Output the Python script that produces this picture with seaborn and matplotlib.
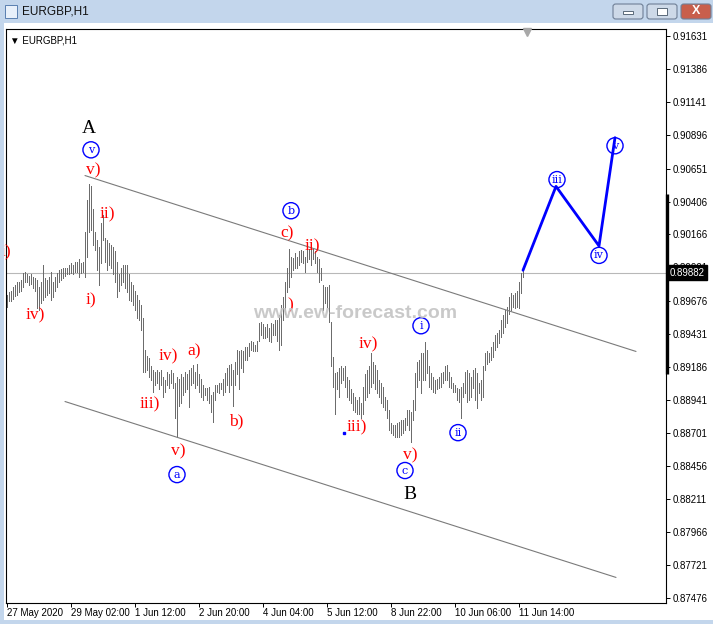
import matplotlib
matplotlib.use("Agg")
import matplotlib.pyplot as plt
import matplotlib.transforms as mtransforms
from matplotlib.patches import Rectangle, FancyBboxPatch
import pandas as pd
import seaborn as sns

# EURGBP H1 bars (one entry per hourly bar)
highs = [
    0.8972, 0.8974, 0.8975, 0.8978, 0.8979, 0.8981, 0.8981, 0.8983, 0.8988, 0.8989,
    0.8987, 0.8986, 0.8987, 0.8985, 0.8984, 0.8983, 0.8978, 0.8981, 0.8994, 0.8984,
    0.8983, 0.8985, 0.8989, 0.8981, 0.8985, 0.8988, 0.8990, 0.8991, 0.8992, 0.8992,
    0.8992, 0.8994, 0.8995, 0.8994, 0.8996, 0.8996, 0.8998, 0.8995, 0.8996, 0.9018,
    0.9042, 0.9054, 0.9052, 0.9035, 0.9018, 0.9012, 0.9007, 0.9025, 0.9031, 0.9014,
    0.9012, 0.9010, 0.9009, 0.9007, 0.9004, 0.8996, 0.8987, 0.8992, 0.8994, 0.8994,
    0.8994, 0.8987, 0.8981, 0.8979, 0.8975, 0.8972, 0.8968, 0.8964, 0.8955, 0.8931,
    0.8927, 0.8925, 0.8919, 0.8916, 0.8915, 0.8916, 0.8915, 0.8916, 0.8911, 0.8909,
    0.8915, 0.8913, 0.8916, 0.8914, 0.8907, 0.8911, 0.8910, 0.8913, 0.8911, 0.8915,
    0.8913, 0.8916, 0.8918, 0.8920, 0.8915, 0.8921, 0.8913, 0.8910, 0.8905, 0.8903,
    0.8903, 0.8904, 0.8898, 0.8900, 0.8905, 0.8905, 0.8907, 0.8907, 0.8910, 0.8914,
    0.8918, 0.8920, 0.8921, 0.8916, 0.8922, 0.8931, 0.8930, 0.8931, 0.8930, 0.8933,
    0.8933, 0.8936, 0.8938, 0.8937, 0.8935, 0.8938, 0.8951, 0.8952, 0.8950, 0.8948,
    0.8950, 0.8947, 0.8951, 0.8950, 0.8953, 0.8953, 0.8957, 0.8964, 0.8970, 0.8981,
    0.8992, 0.9006, 0.9000, 0.8999, 0.9003, 0.9000, 0.9004, 0.9005, 0.9004, 0.9000,
    0.9005, 0.9006, 0.9005, 0.9006, 0.9004, 0.9000, 0.8998, 0.8992, 0.8979, 0.8978,
    0.8978, 0.8979, 0.8952, 0.8926, 0.8914, 0.8915, 0.8918, 0.8919, 0.8918, 0.8919,
    0.8911, 0.8909, 0.8902, 0.8899, 0.8896, 0.8894, 0.8896, 0.8892, 0.8904, 0.8913,
    0.8916, 0.8919, 0.8929, 0.8922, 0.8920, 0.8916, 0.8909, 0.8907, 0.8904, 0.8896,
    0.8894, 0.8887, 0.8877, 0.8876, 0.8876, 0.8877, 0.8878, 0.8879, 0.8879, 0.8881,
    0.8887, 0.8887, 0.8885, 0.8894, 0.8914, 0.8922, 0.8924, 0.8929, 0.8929, 0.8937,
    0.8931, 0.8919, 0.8914, 0.8911, 0.8909, 0.8910, 0.8911, 0.8914, 0.8915, 0.8919,
    0.8920, 0.8915, 0.8911, 0.8907, 0.8905, 0.8903, 0.8902, 0.8904, 0.8907, 0.8915,
    0.8916, 0.8914, 0.8911, 0.8916, 0.8918, 0.8914, 0.8907, 0.8909, 0.8919, 0.8929,
    0.8930, 0.8929, 0.8933, 0.8937, 0.8942, 0.8944, 0.8946, 0.8953, 0.8957, 0.8961,
    0.8963, 0.8970, 0.8973, 0.8972, 0.8973, 0.8975, 0.8981, 0.8988, 0.8992,
]
lows = [
    0.8963, 0.8967, 0.8967, 0.8969, 0.8971, 0.8972, 0.8974, 0.8975, 0.8978, 0.8981,
    0.8981, 0.8979, 0.8980, 0.8977, 0.8975, 0.8962, 0.8961, 0.8966, 0.8968, 0.8970,
    0.8972, 0.8973, 0.8968, 0.8970, 0.8975, 0.8978, 0.8981, 0.8983, 0.8984, 0.8986,
    0.8987, 0.8987, 0.8988, 0.8987, 0.8989, 0.8989, 0.8985, 0.8988, 0.8989, 0.8985,
    0.9000, 0.9018, 0.9020, 0.9009, 0.9005, 0.8990, 0.8979, 0.8995, 0.9012, 0.8996,
    0.8990, 0.8994, 0.8992, 0.8987, 0.8981, 0.8970, 0.8975, 0.8979, 0.8981, 0.8977,
    0.8974, 0.8968, 0.8967, 0.8964, 0.8961, 0.8955, 0.8953, 0.8946, 0.8915, 0.8915,
    0.8916, 0.8911, 0.8909, 0.8900, 0.8905, 0.8907, 0.8902, 0.8905, 0.8896, 0.8900,
    0.8905, 0.8903, 0.8907, 0.8903, 0.8881, 0.8867, 0.8890, 0.8892, 0.8898, 0.8900,
    0.8902, 0.8889, 0.8905, 0.8907, 0.8903, 0.8905, 0.8900, 0.8896, 0.8894, 0.8898,
    0.8894, 0.8892, 0.8885, 0.8878, 0.8894, 0.8900, 0.8899, 0.8902, 0.8898, 0.8900,
    0.8905, 0.8900, 0.8905, 0.8890, 0.8905, 0.8913, 0.8902, 0.8918, 0.8915, 0.8924,
    0.8924, 0.8927, 0.8931, 0.8930, 0.8930, 0.8930, 0.8938, 0.8942, 0.8940, 0.8940,
    0.8941, 0.8938, 0.8937, 0.8942, 0.8942, 0.8938, 0.8931, 0.8935, 0.8953, 0.8958,
    0.8974, 0.8978, 0.8985, 0.8990, 0.8992, 0.8992, 0.8994, 0.8996, 0.8995, 0.8989,
    0.8996, 0.8998, 0.8994, 0.8998, 0.8995, 0.8989, 0.8981, 0.8983, 0.8961, 0.8966,
    0.8963, 0.8952, 0.8919, 0.8904, 0.8884, 0.8902, 0.8896, 0.8907, 0.8909, 0.8904,
    0.8896, 0.8894, 0.8892, 0.8887, 0.8885, 0.8884, 0.8884, 0.8881, 0.8884, 0.8894,
    0.8896, 0.8899, 0.8904, 0.8907, 0.8902, 0.8899, 0.8896, 0.8892, 0.8889, 0.8887,
    0.8881, 0.8872, 0.8870, 0.8868, 0.8867, 0.8867, 0.8867, 0.8868, 0.8870, 0.8872,
    0.8876, 0.8872, 0.8863, 0.8879, 0.8887, 0.8904, 0.8909, 0.8899, 0.8909, 0.8909,
    0.8914, 0.8904, 0.8902, 0.8900, 0.8899, 0.8902, 0.8903, 0.8904, 0.8907, 0.8909,
    0.8909, 0.8904, 0.8903, 0.8900, 0.8900, 0.8894, 0.8893, 0.8881, 0.8896, 0.8899,
    0.8893, 0.8894, 0.8896, 0.8903, 0.8894, 0.8888, 0.8899, 0.8894, 0.8896, 0.8916,
    0.8921, 0.8922, 0.8924, 0.8926, 0.8931, 0.8933, 0.8936, 0.8941, 0.8944, 0.8948,
    0.8951, 0.8958, 0.8961, 0.8963, 0.8962, 0.8963, 0.8962, 0.8973, 0.8985,
]
last_price = 0.89882

price_ticks = [0.91631, 0.91386, 0.91141, 0.90896, 0.90651, 0.90406, 0.90166, 0.89921,
               0.89676, 0.89431, 0.89186, 0.88941, 0.88701, 0.88456, 0.88211, 0.87966,
               0.87721, 0.87476]
date_ticks = [0, 32, 64, 96, 128, 160, 192, 224, 256]
date_labels = ["27 May 2020", "29 May 02:00", "1 Jun 12:00", "2 Jun 20:00", "4 Jun 04:00",
               "5 Jun 12:00", "8 Jun 22:00", "10 Jun 06:00", "11 Jun 14:00"]

# projected wave (blue) and channel lines
wave_bar = [258, 274.5, 296, 304]
wave_price = [0.8990, 0.9052, 0.9008, 0.9088]
upper_bar = [39, 314.5]
upper_price = [0.9060, 0.8930]
lower_bar = [29, 304.5]
lower_price = [0.8893, 0.8763]

# wave labels: (text, bar, price)
red_labels = [("i)", -0.5, 0.9003), ("iv)", 14, 0.8957), ("v)", 43, 0.9064), ("ii)", 50, 0.9031),
              ("i)", 42, 0.8968), ("iv)", 80.5, 0.8926), ("a)", 93.5, 0.8930), ("iii)", 71.5, 0.8891),
              ("b)", 114.5, 0.8878), ("v)", 85.5, 0.8856), ("c)", 140, 0.9017), ("ii)", 152.5, 0.9008),
              (")", 141.5, 0.8964), ("iv)", 180.5, 0.8935), ("iii)", 175, 0.8874), ("v)", 201.5, 0.8853)]
blue_labels = [("v", 42, 0.9079), ("a", 85, 0.8839), ("b", 142, 0.9034), ("c", 199, 0.8842),
               ("i", 207, 0.8949), ("ii", 225.5, 0.8870), ("iii", 275, 0.9057), ("iv", 296, 0.9001),
               ("v", 304, 0.9082)]
black_labels = [("A", 41, 0.9095), ("B", 201.5, 0.8824)]

sns.set_style("white")
plt.rcParams['font.family'] = ['Liberation Sans', 'DejaVu Sans']

W, H = 713, 624
fig = plt.figure(figsize=(W / 100, H / 100), dpi=100)
fig.patch.set_facecolor("white")


def frect(x0, y0, x1, y1, **kw):
    # rectangle given in screen pixels (y down)
    return Rectangle((x0 / W, 1 - y1 / H), (x1 - x0) / W, (y1 - y0) / H,
                     transform=fig.transFigure, **kw)


# window chrome
fig.patches.append(frect(0, 0, W, 23, facecolor="#c3d6ec", edgecolor="none"))
fig.patches.append(frect(0, 0, 4, H, facecolor="#c3d6ec", edgecolor="none"))
fig.patches.append(frect(0, 620, W, H, facecolor="#c3d6ec", edgecolor="none"))
fig.patches.append(frect(5, 5, 17, 18, facecolor="#e8f0fa", edgecolor="#5a7fb0", lw=0.7))
fig.text(22 / W, 1 - 12 / H, "EURGBP,H1", fontsize=8.5, va="center", color="#111111")
for x0, x1, fc in [(613, 643, "#cdd9e8"), (647, 677, "#cdd9e8"), (681, 711, "#c85f4c")]:
    fig.patches.append(FancyBboxPatch((x0 / W, 1 - 19 / H), (x1 - x0) / W, 15 / H,
                                      boxstyle="round,pad=0,rounding_size=0.004",
                                      transform=fig.transFigure, facecolor=fc,
                                      edgecolor="#6f7f96", lw=0.8))
fig.patches.append(frect(623, 11, 633, 14, facecolor="#ffffff", edgecolor="#445566", lw=0.6))
fig.patches.append(frect(657, 8, 667, 15, facecolor="#ffffff", edgecolor="#445566", lw=0.6))
fig.text(696 / W, 1 - 11.5 / H, "X", fontsize=9, fontweight="bold", color="white",
         ha="center", va="center")

# chart frame: y 29..603, x 6..666
ax = fig.add_axes([6 / W, 21 / H, 660 / W, 574 / H])
ax.set_facecolor("white")
ax.set_xlim(-0.5, 329.5)
ax.set_ylim(0.87441, 0.91683)

bars = pd.DataFrame({"bar": range(len(highs)), "high": highs, "low": lows})
ax.vlines(bars["bar"], bars["low"], bars["high"], color="#6c6c6c", lw=0.55,
          antialiased=False, zorder=2)

ax.axhline(last_price, color="#b8b8b8", lw=0.8, zorder=1)

chan = pd.DataFrame({"bar": upper_bar + lower_bar, "price": upper_price + lower_price,
                     "line": ["up", "up", "low", "low"]})
sns.lineplot(data=chan, x="bar", y="price", units="line", estimator=None,
             color="#7a7a7a", lw=0.8, ax=ax, zorder=3)

wave = pd.DataFrame({"bar": wave_bar, "price": wave_price})
sns.lineplot(data=wave, x="bar", y="price", color="#0000ff", lw=2.0, ax=ax,
             sort=False, zorder=5)

for txt, b, p in red_labels:
    ax.text(b, p, txt, color="#ff0000", fontsize=12.5, family="Liberation Serif",
            ha="center", va="center", zorder=6)
for txt, b, p in black_labels:
    ax.text(b, p, txt, color="black", fontsize=14, family="Liberation Serif",
            ha="center", va="center", zorder=6)
ax.scatter([b for _, b, _ in blue_labels], [p for _, _, p in blue_labels], s=135,
           facecolors="none", edgecolors="#0000ff", linewidths=1.0, zorder=6)
for txt, b, p in blue_labels:
    ax.text(b, p, txt, color="#0000ff", fontsize=8, family="DejaVu Serif",
            ha="center", va="center", zorder=7)
ax.plot([168.5], [0.8870], marker="s", ms=1.5, color="#0000ff", zorder=6)

ax.text(174, 0.8958, "www.ew-forecast.com", fontsize=14, fontweight="bold",
        color="#c4c4c4", alpha=0.9, ha="center", va="center", zorder=8)
ax.text(0.006, 0.988, "\u25bc EURGBP,H1", transform=ax.transAxes, fontsize=7,
        va="top", ha="left", color="black")

# axes / ticks like the terminal
for s in ax.spines.values():
    s.set_visible(True)
    s.set_color("black")
    s.set_linewidth(0.8)
ax.yaxis.tick_right()
ax.set_yticks(price_ticks)
ax.set_yticklabels([f"{v:.5f}" for v in price_ticks])
ax.set_xticks(date_ticks)
ax.set_xticklabels(date_labels)
for lab in ax.get_xticklabels():
    lab.set_horizontalalignment("left")
ax.tick_params(axis="y", right=True, length=3, width=0.7, pad=2, labelsize=7,
               direction="out", colors="black")
ax.tick_params(axis="x", bottom=True, length=3, width=0.7, pad=0.5, labelsize=7,
               direction="out", colors="black")
ax.set_xlabel("")
ax.set_ylabel("")

trans = mtransforms.blended_transform_factory(ax.transAxes, ax.transData)
ax.plot([1.002, 1.002], [0.9046, 0.8913], transform=trans, color="black", lw=2.4,
        solid_capstyle="butt", clip_on=False, zorder=9)
ax.annotate(f"{last_price:.5f}", xy=(1.0, last_price), xycoords=trans,
            xytext=(4, 0), textcoords="offset pixels", ha="left", va="center",
            fontsize=7, color="white", annotation_clip=False, zorder=10,
            bbox=dict(boxstyle="square,pad=0.25", fc="black", ec="black"))
trans_top = mtransforms.blended_transform_factory(ax.transData, ax.transAxes)
ax.plot([260], [0.994], marker="v", ms=6, color="#a8a8a8", transform=trans_top,
        clip_on=False, zorder=9)

fig.savefig("out.png", dpi=100)
